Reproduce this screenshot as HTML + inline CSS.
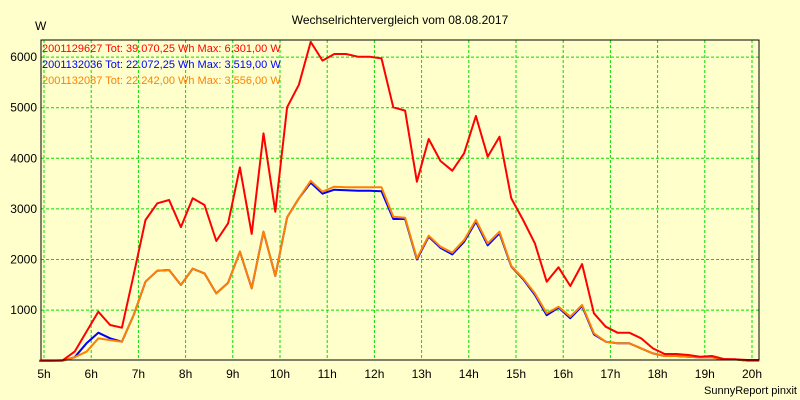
<!DOCTYPE html>
<html><head><meta charset="utf-8"><style>
html,body{margin:0;padding:0;background:#FFFFCC;}
svg{display:block;font-family:"Liberation Sans",sans-serif;}
</style></head><body>
<svg id="chart" width="800" height="400">
<rect x="0" y="0" width="800" height="400" fill="#FFFFCC"/>
<text x="400" y="24" font-size="12" text-anchor="middle" fill="#000">Wechselrichtervergleich vom 08.08.2017</text>
<text x="35" y="30" font-size="12" fill="#000">W</text>
<text x="797" y="394" font-size="11" text-anchor="end" fill="#000">SunnyReport pinxit</text>
<g id="grid"></g>
<g id="axes"></g>
<g id="series"></g>
<rect x="41" y="40" width="718" height="320" fill="none" stroke="#000" stroke-width="1"/>
<g font-size="11">
<text x="42" y="52" fill="#FF0000">2001129627 Tot: 39.070,25 Wh Max: 6.301,00 W</text>
<text x="42" y="68" fill="#0000FF">2001132036 Tot: 22.072,25 Wh Max: 3.519,00 W</text>
<text x="42" y="84" fill="#FF8000">2001132087 Tot: 22.242,00 Wh Max: 3.556,00 W</text>
</g>
</svg>
<script>
const hourTicks=[5,6,7,8,9,10,11,12,13,14,15,16,17,18,19,20];
const valueTicks=[1000,2000,3000,4000,5000,6000];
const startTime=4.9;
const stepHours=0.25;
const redValues=[0,0,10,180,575,969,706,653,1700,2781,3111,3176,2640,3209,3077,2366,2715,3821,2506,4493,2945,5007,5454,6301,5930,6061,6061,6008,6008,5975,5007,4942,3538,4381,3946,3755,4098,4836,4032,4427,3208,2780,2319,1562,1845,1476,1910,936,672,554,554,442,244,132,132,112,79,92,33,26,13,13];
const blueValues=[0,0,0,70,343,554,442,375,903,1562,1779,1792,1496,1818,1726,1331,1542,2155,1430,2550,1673,2833,3209,3519,3300,3380,3370,3360,3360,3350,2800,2800,2000,2450,2230,2100,2350,2747,2280,2520,1860,1610,1300,900,1050,840,1080,520,375,343,343,244,145,92,92,79,66,66,26,26,0,0];
const orangeValues=[0,0,0,70,178,441,408,375,903,1562,1779,1792,1496,1818,1726,1331,1542,2155,1430,2550,1673,2833,3209,3556,3340,3439,3426,3426,3426,3426,2846,2826,2022,2470,2253,2134,2384,2780,2319,2550,1872,1628,1331,936,1068,870,1100,541,375,343,343,244,145,92,92,79,66,66,26,26,0,0];
const NS="http://www.w3.org/2000/svg";
function xScale(t){return 44+(t-5)*47.2;}
function yScale(v){return 360.7-v*0.0506;}
const grid=document.getElementById('grid'),axes=document.getElementById('axes'),series=document.getElementById('series');
function mk(tag,attrs,parent){const e=document.createElementNS(NS,tag);for(const k in attrs)e.setAttribute(k,attrs[k]);parent.appendChild(e);return e;}
hourTicks.forEach(h=>{
  const x=xScale(h);
  const l=mk('line',{x1:x,x2:x,y1:40,y2:360,stroke:'#00DD00','stroke-dasharray':'3,2','stroke-width':1},grid);
  
  
  const t=mk('text',{x:x,y:378,'font-size':12,'text-anchor':'middle',fill:'#000'},axes);
  t.textContent=h+'h';
  
  
});
valueTicks.forEach(v=>{
  const y=yScale(v);
  const l=mk('line',{x1:41,x2:759,y1:y,y2:y,stroke:'#00DD00','stroke-dasharray':'3,2','stroke-width':1},grid);
  
  
  const t=mk('text',{x:37,y:y+4,'font-size':12,'text-anchor':'end',fill:'#000'},axes);
  t.textContent=v;
  
  
});
function drawSeries(vals,color,name){
  const pts=vals.map((v,i)=>xScale(startTime+i*stepHours).toFixed(1)+','+yScale(v).toFixed(1)).join(' ');
  const p=mk('polyline',{points:pts,fill:'none',stroke:color,'stroke-width':2,'stroke-linejoin':'round'},series);
  
  
}
drawSeries(blueValues,'#0000FF','series-2001132036');
drawSeries(orangeValues,'#FF8000','series-2001132087');
drawSeries(redValues,'#FF0000','series-2001129627');
</script>
</body></html>
